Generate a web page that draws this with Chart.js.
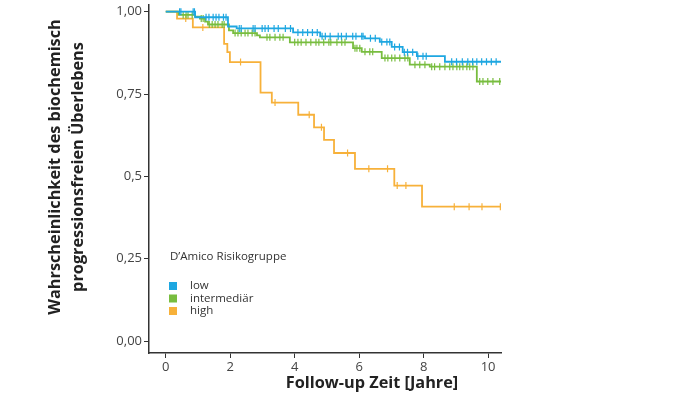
<!DOCTYPE html>
<html><head><meta charset="utf-8">
<script src="https://cdn.jsdelivr.net/npm/chart.js@4/dist/chart.umd.min.js"></script>
<style>html,body{margin:0;padding:0;background:#fff}#w{width:674px;height:396px}</style>
</head><body><div id="w"><canvas id="c"></canvas></div>
<script>
// ---- data ----
const groupNames = ['low', 'intermediär', 'high'];
const legendTitle = 'D\u2019Amico Risikogruppe';
const xTitle = 'Follow-up Zeit [Jahre]';
const yTitleLines = ['Wahrscheinlichkeit des biochemisch', 'progressionsfreien Überlebens'];

const lowTimes = [0, 0.91, 1.93, 2.2, 3.95, 4.79, 6.18, 6.64, 7.01, 7.35, 7.79, 8.66, 10.4];
const lowSurv  = [1, 0.983, 0.955, 0.949, 0.937, 0.925, 0.919, 0.908, 0.893, 0.877, 0.865, 0.848, 0.848];
const lowCensor = [0.43,0.47,0.85,0.89,1.25,1.34,1.47,1.56,1.65,1.79,1.87,2.28,2.34,2.71,2.77,2.99,3.08,3.18,3.36,3.49,3.71,3.87,
  4.1,4.25,4.4,4.55,4.7,4.85,4.95,5.1,5.35,5.45,5.6,5.8,5.9,6.08,6.12,6.35,6.5,6.7,6.86,6.95,7.1,7.25,7.4,7.5,7.66,7.82,7.98,
  8.08,8.87,9.02,9.2,9.37,9.52,9.65,9.8,9.95,10.1,10.25];

const midTimes = [0, 0.4, 0.91, 1.06, 1.22, 1.31, 1.96, 2.09, 2.83, 2.92, 3.85, 5.81, 6.08, 6.7, 7.57, 8.19, 9.65, 10.4];
const midSurv  = [1, 0.99, 0.985, 0.979, 0.970, 0.961, 0.943, 0.935, 0.928, 0.922, 0.907, 0.889, 0.878, 0.859, 0.839, 0.833, 0.788, 0.788];
const midCensor = [0.54,0.63,0.69,0.82,1.1,1.16,1.35,1.44,1.53,1.62,1.75,1.81,2.15,2.24,2.34,2.46,2.55,2.68,2.77,3.14,3.23,3.39,3.54,3.64,
  4.0,4.1,4.2,4.35,4.5,4.66,4.75,4.9,5.06,5.12,5.31,5.46,5.56,5.87,5.93,6.02,6.18,6.33,6.42,6.8,6.89,7.01,7.11,7.26,7.42,7.51,7.73,
  7.88,8.04,8.25,8.34,8.5,8.66,8.81,8.91,9.03,9.12,9.22,9.34,9.43,9.53,9.74,9.84,9.99,10.15,10.36];

const highTimes = [0, 0.35, 0.84, 1.81, 1.91, 1.99, 2.94, 3.29, 4.11, 4.6, 4.91, 5.22, 5.87, 7.09, 7.95, 10.4];
const highSurv  = [1, 0.979, 0.952, 0.902, 0.877, 0.847, 0.754, 0.724, 0.687, 0.649, 0.611, 0.571, 0.523, 0.472, 0.408, 0.408];
const highCensor = [0.62,1.15,2.32,3.39,4.45,4.83,5.64,6.3,6.88,7.18,7.45,8.95,9.41,9.81,10.38];

const xTickValues = [0, 2, 4, 6, 8, 10];
const yTickValues = [0, 0.25, 0.5, 0.75, 1];
const yTickLabels = ['0,00', '0,25', '0,5', '0,75', '1,00'];

// ---- styles ----
const colors = ['#1ea7e1', '#78bd3f', '#f7b13a'];
const FONT = '"Open Sans", "Noto Sans", sans-serif';

function stepAt(times, surv, t) {
  let v = surv[0];
  for (let i = 0; i < times.length; i++) if (times[i] <= t) v = surv[i];
  return v;
}
function curve(times, surv) { return times.map((t, i) => ({x: t, y: surv[i]})); }
function censor(times, surv, cs) { return cs.map(t => ({x: t, y: stepAt(times, surv, t)})); }

const groups = [
  [lowTimes, lowSurv, lowCensor],
  [midTimes, midSurv, midCensor],
  [highTimes, highSurv, highCensor]
];
const datasets = [];
groups.forEach((g, i) => {
  datasets.push({
    label: groupNames[i], data: curve(g[0], g[1]), stepped: 'before',
    borderColor: colors[i], borderWidth: 1.8, pointRadius: 0, fill: false, order: i * 2 + 1
  });
  datasets.push({
    label: groupNames[i] + ' zensiert', data: censor(g[0], g[1], g[2]), showLine: false,
    pointStyle: 'line', rotation: 90, pointRadius: 3.5, borderColor: colors[i], pointBorderColor: colors[i],
    pointBorderWidth: 1.2, order: i * 2
  });
});

const annot = {
  id: 'annot',
  afterDraw(chart) {
    const ctx = chart.ctx;
    ctx.save();
    ctx.fillStyle = '#222';
    ctx.textAlign = 'center';
    ctx.textBaseline = 'middle';
    ctx.font = 'bold 16.3px ' + FONT;
    ctx.fillText(xTitle, 372, 383);
    ctx.save();
    ctx.translate(66, 167);
    ctx.rotate(-Math.PI / 2);
    ctx.fillText(yTitleLines[0], 0, -11);
    ctx.fillText(yTitleLines[1], 0, 12);
    ctx.restore();
    // legend
    ctx.textAlign = 'left';
    ctx.fillStyle = '#333';
    ctx.font = '11.5px ' + FONT;
    ctx.fillText(legendTitle, 170, 257);
    groupNames.forEach((n, i) => {
      const y = 286 + i * 12.5;
      ctx.fillStyle = colors[i];
      ctx.fillRect(169, y - 4, 8, 8);
      ctx.fillStyle = '#333';
      ctx.fillText(n, 190, y);
    });
    ctx.restore();
  }
};

new Chart(document.getElementById('c'), {
  type: 'line',
  data: {datasets},
  options: {
    responsive: true, maintainAspectRatio: false, animation: false,
    layout: {padding: {left: 0, right: 173, top: 3, bottom: 0}},
    plugins: {legend: {display: false}, tooltip: {enabled: false}},
    scales: {
      x: {
        type: 'linear', min: -0.52, max: 10.4,
        afterBuildTicks: s => { s.ticks = xTickValues.map(v => ({value: v})); },
        afterFit: s => { s.height = 43; s.paddingLeft = 0; s.paddingRight = 0; },
        grid: {drawOnChartArea: false, drawTicks: true, tickLength: 5, color: '#333', lineWidth: 1},
        border: {color: '#333', width: 1.5},
        ticks: {color: '#444', font: {family: FONT, size: 13}, padding: 1, callback: v => String(v)}
      },
      y: {
        type: 'linear', min: -0.0362, max: 1.0196,
        afterBuildTicks: s => { s.ticks = yTickValues.map(v => ({value: v})); },
        afterFit: s => { s.width = 149; s.paddingTop = 0; s.paddingBottom = 0; },
        grid: {drawOnChartArea: false, drawTicks: true, tickLength: 5, color: '#333', lineWidth: 1},
        border: {color: '#333', width: 1.5},
        ticks: {color: '#444', font: {family: FONT, size: 13}, padding: 2,
          callback: v => { const i = yTickValues.indexOf(v); return i >= 0 ? yTickLabels[i] : ''; }}
      }
    }
  },
  plugins: [annot]
});
</script>
</body></html>
